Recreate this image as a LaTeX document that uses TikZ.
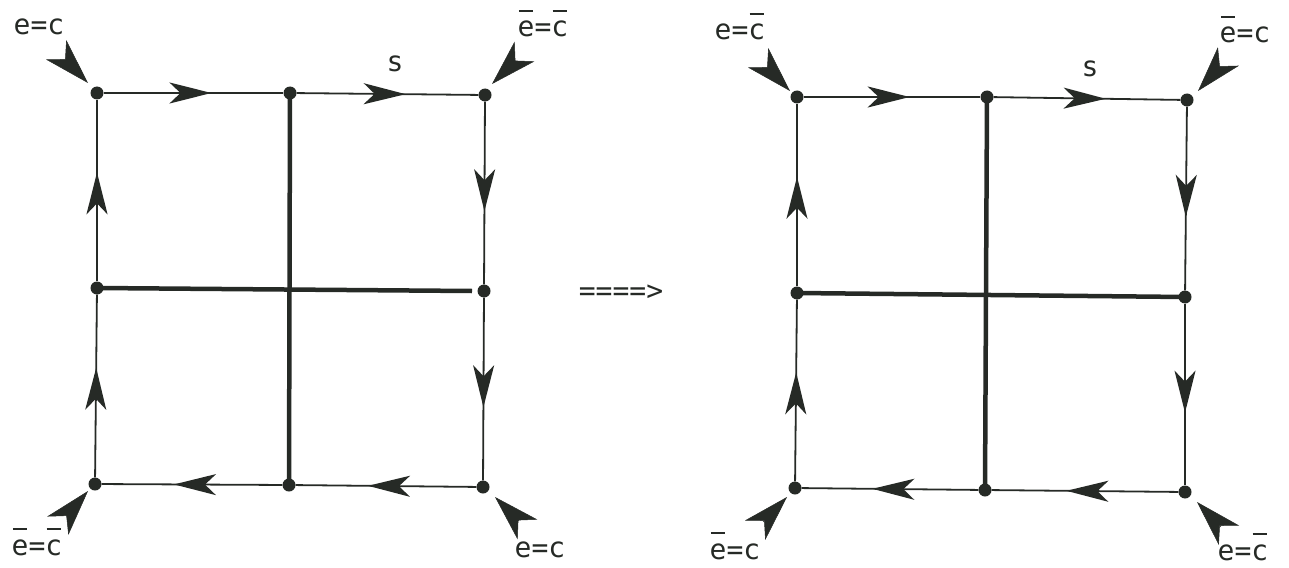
\documentclass[tikz,border=0pt]{standalone}
\usepackage{fontspec}
\setmainfont{DejaVu Sans Mono}
\usetikzlibrary{arrows.meta,decorations.markings}
\definecolor{ink}{RGB}{38,42,38}
\newcommand\ovb[1]{\setbox0\hbox{#1}\makebox[0pt][l]{\hbox to\wd0{\hss\rule[0.9em]{0.85\wd0}{1.6pt}\hss}}\box0}
\tikzset{
  dot/.style={circle,fill=ink,draw=none,inner sep=0pt,minimum size=13pt},
  thinedge/.style={draw=ink,line width=1.8pt},
  thickedge/.style={draw=ink,line width=4.5pt},
  flowedge/.style={thinedge,postaction={decorate},decoration={markings,
     mark=at position 0.6 with {\arrow{Stealth[length=42pt,width=21pt,inset=11pt]}}}},
  cornerarrow/.style={draw=ink,line width=0.5pt,-{Stealth[length=46pt,width=28pt,inset=13pt]}},
  lbl/.style={anchor=base,text=ink,inner sep=0pt,font=\fontsize{28}{30}\selectfont}
}
\begin{document}
\begin{tikzpicture}[x=1pt,y=-1pt]
\useasboundingbox (0,0) rectangle (1289,567);
% ---------- left diagram ----------
\node[dot] (aTL) at (97,93) {};
\node[dot] (aTM) at (290,93) {};
\node[dot] (aTR) at (485,95) {};
\node[dot] (aML) at (97,288) {};
\node[dot] (aMR) at (484,291) {};
\node[dot] (aBL) at (95,484) {};
\node[dot] (aBM) at (289,485) {};
\node[dot] (aBR) at (483,487) {};
\coordinate (aHe) at (472,291);
\draw[thickedge] (aTM.center) -- (aBM.center);
\draw[thickedge] (aML.center) -- (aHe);
\draw[flowedge] (aTL) -- (aTM);
\draw[flowedge] (aTM) -- (aTR);
\draw[flowedge] (aTR) -- (aMR);
\draw[flowedge] (aMR) -- (aBR);
\draw[flowedge] (aBR) -- (aBM);
\draw[flowedge] (aBM) -- (aBL);
\draw[flowedge] (aBL) -- (aML);
\draw[flowedge] (aML) -- (aTL);
\coordinate (aTLt) at (65,59);   \coordinate (aTLp) at (88,83);
\coordinate (aTRt) at (515,61);  \coordinate (aTRp) at (492,84);
\coordinate (aBLt) at (68,514);  \coordinate (aBLp) at (88,491);
\coordinate (aBRt) at (519,521); \coordinate (aBRp) at (495,497);
\draw[cornerarrow] (aTLt) -- (aTLp);
\draw[cornerarrow] (aTRt) -- (aTRp);
\draw[cornerarrow] (aBLt) -- (aBLp);
\draw[cornerarrow] (aBRt) -- (aBRp);
\node[lbl] (aL1) at (39,35) {e=c};
\node[lbl] (aL2) at (543,37) {\ovb{e}=\ovb{c}};
\node[lbl] (aL3) at (37,555) {\ovb{e}=\ovb{c}};
\node[lbl] (aL4) at (540,557) {e=c};
\node[lbl] (aS) at (395,72) {s};
% ---------- implication ----------
\node[lbl] (imp) at (621,300) {====>};
% ---------- right diagram ----------
\node[dot] (bTL) at (797,97) {};
\node[dot] (bTM) at (987,97) {};
\node[dot] (bTR) at (1187,100) {};
\node[dot] (bML) at (797,293) {};
\node[dot] (bMR) at (1185,297) {};
\node[dot] (bBL) at (795,488) {};
\node[dot] (bBM) at (985,490) {};
\node[dot] (bBR) at (1185,492) {};
\draw[thickedge] (bTM.center) -- (bBM.center);
\draw[thickedge] (bML.center) -- (bMR.center);
\draw[flowedge] (bTL) -- (bTM);
\draw[flowedge] (bTM) -- (bTR);
\draw[flowedge] (bTR) -- (bMR);
\draw[flowedge] (bMR) -- (bBR);
\draw[flowedge] (bBR) -- (bBM);
\draw[flowedge] (bBM) -- (bBL);
\draw[flowedge] (bBL) -- (bML);
\draw[flowedge] (bML) -- (bTL);
\coordinate (bTLt) at (767,67);   \coordinate (bTLp) at (790,91);
\coordinate (bTRt) at (1220,66);  \coordinate (bTRp) at (1198,91);
\coordinate (bBLt) at (763,522);  \coordinate (bBLp) at (787,497);
\coordinate (bBRt) at (1221,527); \coordinate (bBRp) at (1197,502);
\draw[cornerarrow] (bTLt) -- (bTLp);
\draw[cornerarrow] (bTRt) -- (bTRp);
\draw[cornerarrow] (bBLt) -- (bBLp);
\draw[cornerarrow] (bBRt) -- (bBRp);
\node[lbl] (bL1) at (740,40) {e=\ovb{c}};
\node[lbl] (bL2) at (1245,43) {\ovb{e}=c};
\node[lbl] (bL3) at (735,559) {\ovb{e}=c};
\node[lbl] (bL4) at (1243,560) {e=\ovb{c}};
\node[lbl] (bS) at (1090,77) {s};
\end{tikzpicture}
\end{document}
